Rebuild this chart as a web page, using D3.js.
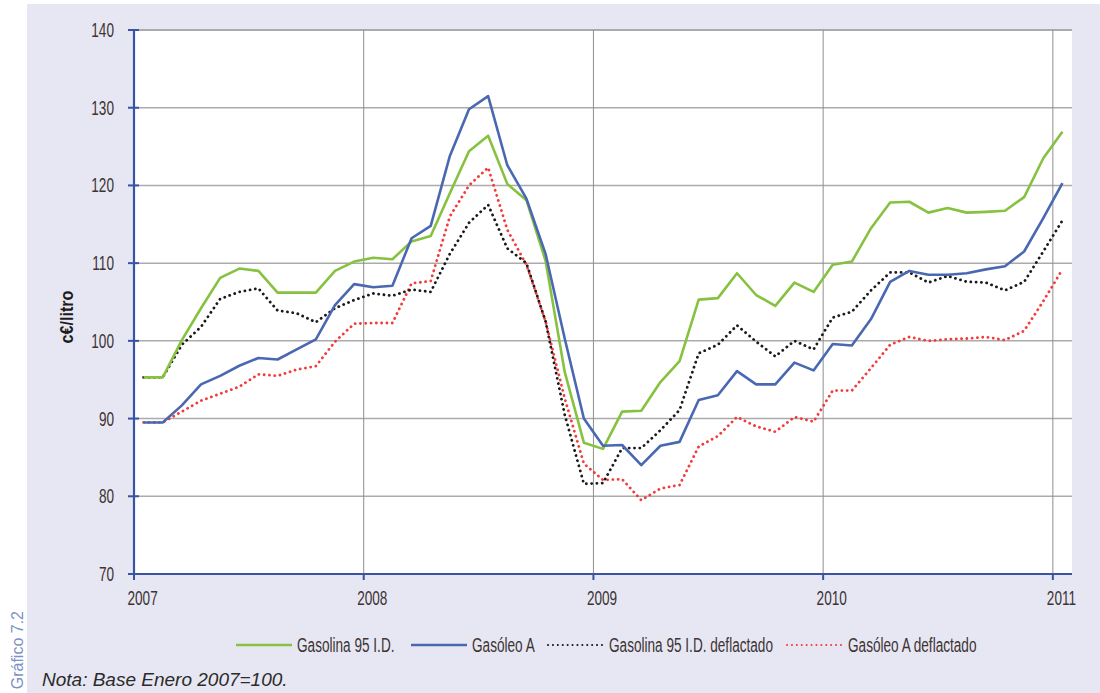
<!DOCTYPE html>
<html>
<head>
<meta charset="utf-8">
<script src="https://cdn.jsdelivr.net/npm/d3@7"></script>
<style>
  html, body { margin: 0; padding: 0; background: #ffffff; }
  svg { display: block; }
</style>
</head>
<body>
<svg id="chart" width="1100" height="693"></svg>
<script>
// ---- DATA ----
const startMonth = new Date(2007, 0, 1);
const endMonth = new Date(2011, 1, 1);
const months = d3.timeMonth.range(startMonth, endMonth); // Jan 2007 .. Jan 2011 (49)
const yearTicks = ["2007", "2008", "2009", "2010", "2011"];
const yTicks = [70, 80, 90, 100, 110, 120, 130, 140];

const gasolina95 = [95.3,95.3,100.1,104.2,108.1,109.3,109.0,106.2,106.2,106.2,
  109.0,110.2,110.7,110.5,112.8,113.5,119.0,124.4,126.4,120.2,
  118.1,110.3,96.0,86.9,86.1,90.9,91.0,94.7,97.4,105.3,
  105.5,108.7,105.9,104.5,107.5,106.3,109.8,110.2,114.5,117.8,
  117.9,116.5,117.1,116.5,116.6,116.75,118.5,123.5,126.9];
const gasoleoA = [89.5,89.5,91.7,94.4,95.5,96.8,97.8,97.6,98.9,100.2,
  104.6,107.3,106.9,107.1,113.2,114.8,123.8,129.8,131.5,122.6,
  118.3,111.2,100.3,90.0,86.5,86.6,84.0,86.5,87.0,92.4,
  93.0,96.1,94.4,94.4,97.2,96.2,99.6,99.4,102.8,107.6,
  109.0,108.5,108.5,108.7,109.2,109.6,111.5,115.8,120.3];
const gasolina95Defl = [95.3,95.3,99.5,101.8,105.4,106.3,106.75,103.9,103.55,102.4,
  104.2,105.25,106.1,105.8,106.6,106.3,111.2,115.2,117.5,111.9,
  110.0,102.5,90.5,81.6,81.7,86.2,86.2,88.5,91.1,98.4,
  99.5,102.0,99.9,98.0,100.0,98.9,103.0,103.75,106.5,108.8,
  108.8,107.5,108.35,107.6,107.5,106.5,107.6,111.5,115.5];
const gasoleoADefl = [89.5,89.5,90.9,92.3,93.2,94.1,95.7,95.5,96.3,96.75,
  99.9,102.2,102.3,102.3,107.4,107.7,116.0,120.0,122.3,114.3,
  109.8,102.5,92.6,84.2,82.1,82.2,79.5,81.0,81.45,86.4,
  87.75,90.2,89.0,88.3,90.2,89.6,93.6,93.6,96.5,99.5,
  100.5,100.0,100.2,100.3,100.5,100.1,101.3,105.1,109.2];

const seriesNames = ["Gasolina 95 I.D.", "Gasóleo A", "Gasolina 95 I.D. deflactado", "Gasóleo A deflactado"];
const seriesValues = [gasolina95, gasoleoA, gasolina95Defl, gasoleoADefl];

// ---- STYLES ----
const styles = [
  {color: "#86c23f", width: 2.6, dash: null, legDash: null, legWidth: 2.6},
  {color: "#4a68b2", width: 2.6, dash: null, legDash: null, legWidth: 2.6},
  {color: "#1a1a1a", width: 2.8, dash: "0.1,5.2", legDash: "0.1,4.8", legWidth: 2, cap: "round"},
  {color: "#f23c3c", width: 2.8, dash: "0.1,5.2", legDash: "0.1,4.8", legWidth: 2, cap: "round"}
];
const legendPos = [
  {x1: 236, x2: 292, tx: 297},
  {x1: 411, x2: 467, tx: 472},
  {x1: 548, x2: 603, tx: 609},
  {x1: 787, x2: 841, tx: 848}
];
const textColor = "#3d3434";
const condensed = "'Liberation Sans', 'DejaVu Sans', sans-serif";
const sx = 0.68;

const svg = d3.select("#chart");

// background panel
svg.append("rect").attr("x", 27).attr("y", 4).attr("width", 1073).attr("height", 689).attr("fill", "#e7e7f3");

const pLeft = 134, pRight = 1072, pTop = 30, pBottom = 574;
const x = d3.scaleBand().domain(months).range([pLeft, pRight]).paddingInner(0).paddingOuter(0);
const bw = x.bandwidth();
const y = d3.scaleLinear().domain([70, 140]).range([pBottom, pTop]);

// plot area
svg.append("rect").attr("x", pLeft).attr("y", pTop).attr("width", pRight - pLeft).attr("height", pBottom - pTop).attr("fill", "#ffffff");

// horizontal gridlines
svg.append("g").selectAll("line").data(yTicks.filter(d => d > 70)).join("line")
  .attr("x1", pLeft).attr("x2", pRight)
  .attr("y1", d => y(d)).attr("y2", d => y(d))
  .attr("stroke", "#ababab").attr("stroke-width", d => d === 140 ? 2 : 1.5);

// vertical gridlines at each January (years)
const janMonths = months.filter(m => m.getMonth() === 0);
svg.append("g").selectAll("line").data(janMonths.slice(1)).join("line")
  .attr("x1", d => x(d)).attr("x2", d => x(d))
  .attr("y1", pTop).attr("y2", pBottom)
  .attr("stroke", "#8f8f8f").attr("stroke-width", 1);

// lines
const line = d3.line().x((d, i) => x(months[i]) + bw / 2).y(d => y(d));
const order = [3, 2, 0, 1];
order.forEach(k => {
  const s = styles[k];
  svg.append("path").datum(seriesValues[k])
    .attr("d", line)
    .attr("fill", "none")
    .attr("stroke", s.color)
    .attr("stroke-width", s.width)
    .attr("stroke-linejoin", "round")
    .attr("stroke-linecap", s.cap || "butt")
    .attr("stroke-dasharray", s.dash);
});

// y axis
svg.append("line").attr("x1", pLeft).attr("x2", pLeft).attr("y1", pTop - 1).attr("y2", pBottom + 1)
  .attr("stroke", "#3a54a4").attr("stroke-width", 2.2);
svg.append("g").selectAll("line").data(yTicks).join("line")
  .attr("x1", pLeft - 6).attr("x2", pLeft + 5)
  .attr("y1", d => y(d)).attr("y2", d => y(d))
  .attr("stroke", "#3a54a4").attr("stroke-width", 2);
svg.append("g").selectAll("text").data(yTicks).join("text")
  .attr("transform", d => `translate(114,${y(d) + 7}) scale(${sx},1)`)
  .attr("text-anchor", "end")
  .attr("font-family", condensed).attr("font-size", 20)
  .attr("fill", textColor)
  .text(d => d);

// x axis
svg.append("line").attr("x1", pLeft).attr("x2", pRight).attr("y1", pBottom).attr("y2", pBottom)
  .attr("stroke", "#3a54a4").attr("stroke-width", 2.2);
svg.append("g").selectAll("line").data(janMonths).join("line")
  .attr("x1", d => x(d)).attr("x2", d => x(d))
  .attr("y1", pBottom).attr("y2", pBottom + 6)
  .attr("stroke", "#3a54a4").attr("stroke-width", 2);
svg.append("g").selectAll("text").data(janMonths).join("text")
  .attr("transform", (d, i) => `translate(${x(d) + bw / 2 - 1},${pBottom + 31}) scale(${sx},1)`)
  .attr("text-anchor", "middle")
  .attr("font-family", condensed).attr("font-size", 20)
  .attr("fill", textColor)
  .text((d, i) => yearTicks[i]);

// y axis title
svg.append("text")
  .attr("transform", "translate(73,317) rotate(-90) scale(0.85,1)")
  .attr("text-anchor", "middle")
  .attr("font-family", condensed).attr("font-size", 19).attr("font-weight", "bold")
  .attr("fill", "#1e1a1a")
  .text("c€/litro");

// legend
const legY = 645;
seriesNames.forEach((name, k) => {
  const p = legendPos[k], s = styles[k];
  svg.append("line").attr("x1", p.x1).attr("x2", p.x2).attr("y1", legY).attr("y2", legY)
    .attr("stroke", s.color).attr("stroke-width", s.legWidth)
    .attr("stroke-linecap", s.cap || "butt")
    .attr("stroke-dasharray", s.legDash);
  svg.append("text")
    .attr("transform", `translate(${p.tx},${legY + 7}) scale(${sx},1)`)
    .attr("font-family", condensed).attr("font-size", 20)
    .attr("fill", textColor)
    .text(name);
});

// note
svg.append("text").attr("x", 42).attr("y", 686)
  .attr("font-family", "'Liberation Sans', Arial, sans-serif").attr("font-size", 19)
  .attr("font-style", "italic").attr("fill", "#2b2b2b")
  .text("Nota: Base Enero 2007=100.");

// side label
svg.append("text")
  .attr("transform", "translate(23,611) rotate(-90)")
  .attr("text-anchor", "end")
  .attr("font-family", "'Liberation Sans', Arial, sans-serif").attr("font-size", 16)
  .attr("fill", "#7d92c4")
  .text("Gráfico 7.2");
</script>
</body>
</html>
